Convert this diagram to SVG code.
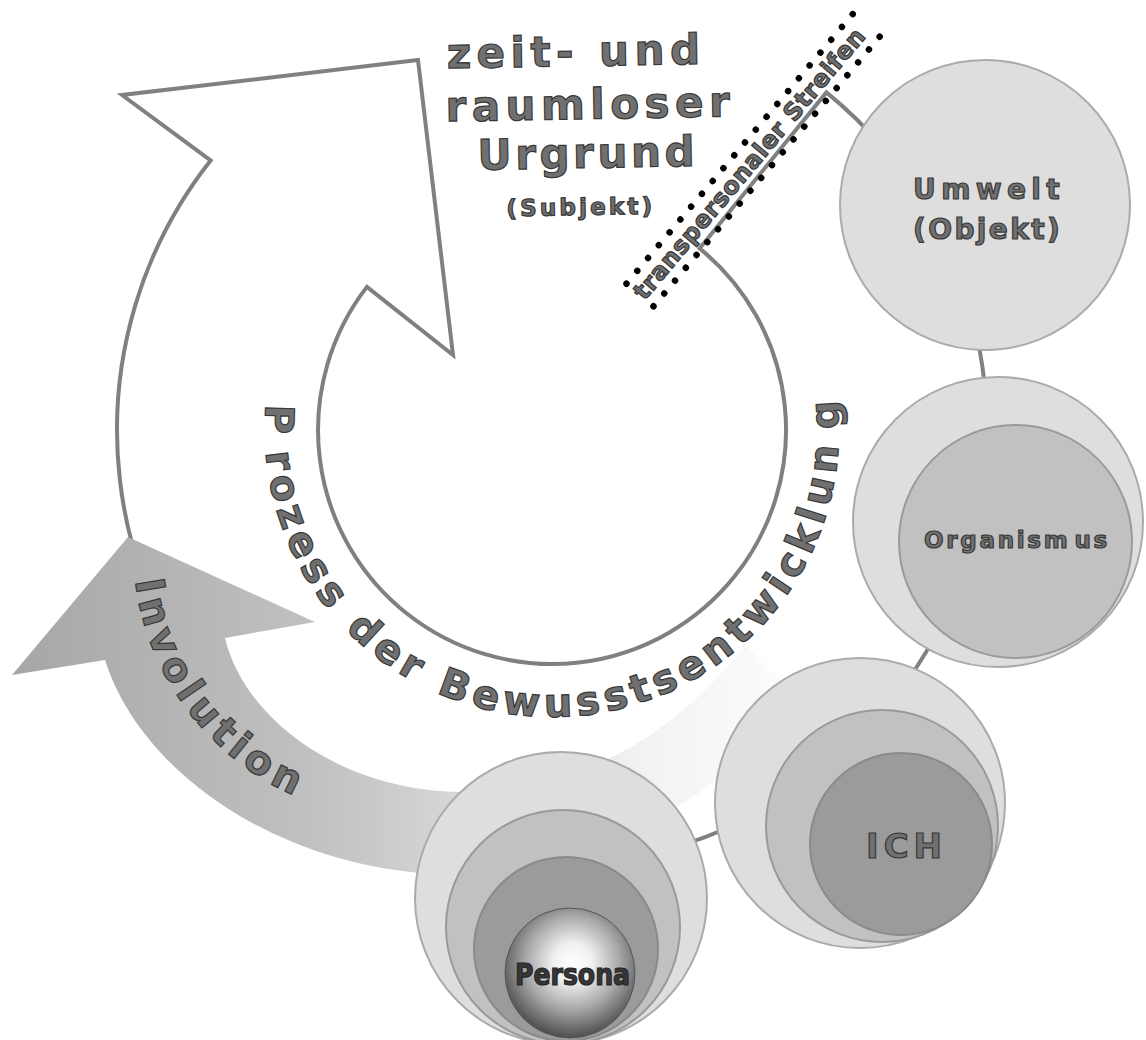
<svg xmlns="http://www.w3.org/2000/svg" width="1146" height="1040" viewBox="0 0 1146 1040">
  <defs>
    <!-- horizontal fade of the Involution arrow -->
    <linearGradient id="involutionFill" gradientUnits="userSpaceOnUse" x1="10" y1="0" x2="800" y2="0">
      <stop offset="0" stop-color="#a6a6a6"/>
      <stop offset="0.4" stop-color="#c2c2c2"/>
      <stop offset="0.56" stop-color="#d6d6d6"/>
      <stop offset="0.8" stop-color="#f2f2f2"/>
      <stop offset="1" stop-color="#fdfdfd"/>
    </linearGradient>
    <!-- shaded sphere at the core of Persona -->
    <radialGradient id="personaCore" cx="0.52" cy="0.42" r="0.6">
      <stop offset="0" stop-color="#ffffff"/>
      <stop offset="0.25" stop-color="#f0f0f0"/>
      <stop offset="0.6" stop-color="#a8a8a8"/>
      <stop offset="0.85" stop-color="#6a6a6a"/>
      <stop offset="1" stop-color="#464646"/>
    </radialGradient>
    <!-- text baselines -->
    <path id="prozessPath" d="M 266.1,404.5 A 287,287 0 1 0 829.2,355.7" fill="none"/>
    <path id="involutionPath" d="M 135.1,580.6 A 272,272 0 0 0 357.8,814.9" fill="none"/>
  </defs>
  <style>
    .ring { fill: #ffffff; stroke: #808080; stroke-width: 4; stroke-linejoin: miter; }
    .c1 { fill: #dedede; stroke: #ababab; stroke-width: 2; }
    .c2 { fill: #c1c1c1; stroke: #9a9a9a; stroke-width: 2; }
    .c3 { fill: #9b9b9b; stroke: #8a8a8a; stroke-width: 2; }
    .lbl { font-family: "DejaVu Sans", "Liberation Sans", sans-serif; font-weight: bold; fill: #707070; stroke: #383838; stroke-width: 1.2; }
    .dots { fill: none; stroke: #000000; stroke-width: 6.5; stroke-linecap: round; stroke-dasharray: 0 16.76; }
  </style>

  <rect x="0" y="0" width="1146" height="1040" fill="#ffffff"/>

  <!-- evolution ring: white band with arrow head, its outer edge links the spheres -->
  <g id="connectors">
    <path class="ring" d="M 699.6,248.4 A 234,234 0 1 1 366.9,286.9 L 453,355 L 418,60 L 122,95 L 210.6,160.4 A 435,435 0 1 0 826.4,92.4 Z"/>
  </g>

  <!-- Involution arrow -->
  <g id="involution">
    <path d="M 745,645 C 680,730 580,795 460,792 C 340,790 245,720 225,638 L 315,622 L 128,537 L 12,675 L 105,660 C 140,770 270,860 420,873 C 580,880 720,800 800,700 Z" fill="url(#involutionFill)"/>
    <text class="lbl" font-size="40" letter-spacing="5.7"><textPath href="#involutionPath">Involution</textPath></text>
  </g>

  <!-- transpersonal strip -->
  <g id="transpersonal" transform="translate(640 295) rotate(-50)">
    <line class="dots" x1="0" y1="-17.6" x2="352" y2="-17.6"/>
    <line class="dots" x1="0" y1="17.6" x2="352" y2="17.6"/>
    <text class="lbl" x="-2" y="7.5" font-size="24" letter-spacing="0.5" stroke-width="1">transpersonaler Streifen</text>
  </g>

  <!-- Umwelt -->
  <g id="umwelt">
    <circle class="c1" cx="985" cy="205" r="145"/>
    <text class="lbl" x="913" y="199" font-size="28" letter-spacing="5.4">Umwelt</text>
    <text class="lbl" x="913" y="239" font-size="28" letter-spacing="2.4">(Objekt)</text>
  </g>

  <!-- Organismus -->
  <g id="organismus">
    <circle class="c1" cx="998" cy="522" r="145"/>
    <circle class="c2" cx="1015.5" cy="541.5" r="116.5"/>
    <text class="lbl" x="924" y="548" font-size="23" letter-spacing="2.7" stroke-width="1.1">Organism<tspan dx="4">us</tspan></text>
  </g>

  <!-- ICH -->
  <g id="ich">
    <circle class="c1" cx="860" cy="803" r="145"/>
    <circle class="c2" cx="882" cy="826" r="116"/>
    <circle class="c3" cx="901" cy="844" r="91"/>
    <text class="lbl" x="866" y="858" font-size="34" letter-spacing="5">ICH</text>
  </g>

  <!-- Persona -->
  <g id="persona">
    <circle class="c1" cx="561" cy="898" r="146"/>
    <circle class="c2" cx="563" cy="927" r="117"/>
    <circle class="c3" cx="566" cy="949" r="92"/>
    <circle cx="570" cy="973" r="65" fill="url(#personaCore)" stroke="#555555" stroke-width="1"/>
    <text x="515" y="985" font-family="'Liberation Sans Narrow', 'DejaVu Sans Condensed', 'Liberation Sans', sans-serif" font-weight="bold" font-size="31" textLength="115" lengthAdjust="spacingAndGlyphs" fill="#363636" stroke="#262626" stroke-width="1.2">Persona</text>
  </g>

  <!-- Urgrund -->
  <g id="urgrund" transform="rotate(-1 580 130)">
    <text class="lbl" x="448" y="66" font-size="42" letter-spacing="5.5">zeit- und</text>
    <text class="lbl" x="446" y="119" font-size="42" letter-spacing="5.5">raumloser</text>
    <text class="lbl" x="477" y="168" font-size="42" letter-spacing="3.6">Urgrund</text>
    <text class="lbl" x="505" y="215" font-size="23" letter-spacing="3.2" stroke-width="1.1">(Subjekt)</text>
  </g>

  <!-- process label along the inner circle -->
  <g id="prozess">
    <text class="lbl" font-size="40" letter-spacing="5.5"><textPath href="#prozessPath">P<tspan dx="13">rozess der Bewusstsentwicklun</tspan><tspan dx="12">g</tspan></textPath></text>
  </g>
</svg>
